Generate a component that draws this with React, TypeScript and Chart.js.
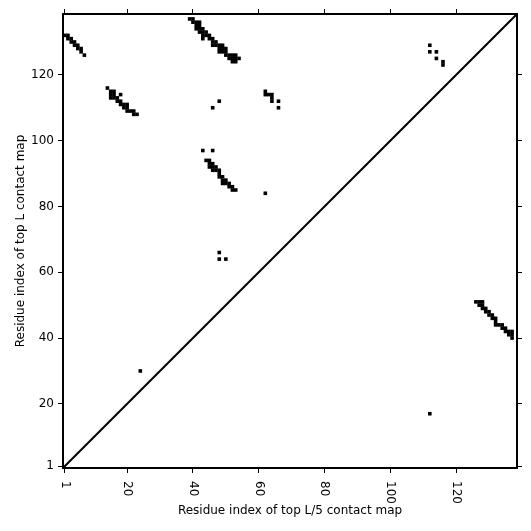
import React, { useEffect, useRef } from 'react';
import { Chart, registerables } from 'chart.js';

Chart.register(...registerables);

const SEQ_LENGTH = 138;
const xTickValues = [1, 20, 40, 60, 80, 100, 120];
const yTickValues = [1, 20, 40, 60, 80, 100, 120];
const xAxisTitle = 'Residue index of top L/5 contact map';
const yAxisTitle = 'Residue index of top L contact map';

// top L contacts (upper-left triangle), [i, j]
const topLClusterA: [number, number][] = [
  [1, 132], [2, 132], [2, 131], [3, 131], [3, 130], [4, 130], [4, 129], [5, 129], [5, 128], [6, 128], [6, 127], [7, 126],
];
const topLClusterB: [number, number][] = [
  [39, 137], [40, 137], [40, 136], [41, 136], [41, 135], [41, 134], [42, 136], [42, 135], [42, 134], [42, 133],
  [43, 134], [43, 133], [43, 132], [43, 131], [44, 133], [44, 132], [45, 132], [45, 131], [46, 131], [46, 130],
  [46, 129], [47, 130], [47, 129], [48, 129], [48, 128], [48, 127], [49, 129], [49, 128], [49, 127], [50, 128],
  [50, 127], [50, 126], [51, 126], [51, 125], [52, 126], [52, 125], [52, 124], [53, 126], [53, 125], [53, 124], [54, 125],
];
const topLClusterC: [number, number][] = [
  [14, 116], [15, 115], [15, 114], [15, 113], [16, 115], [16, 114], [16, 113], [17, 113], [17, 112], [18, 114],
  [18, 112], [18, 111], [19, 111], [19, 110], [20, 111], [20, 110], [20, 109], [21, 109], [22, 109], [22, 108], [23, 108],
];
const topLClusterD: [number, number][] = [
  [43, 97], [46, 97], [44, 94], [45, 94], [45, 93], [46, 93], [45, 92], [46, 92], [47, 92], [46, 91], [47, 91],
  [48, 91], [48, 90], [48, 89], [49, 89], [49, 88], [50, 88], [49, 87], [50, 87], [51, 87], [51, 86], [52, 86], [52, 85], [53, 85],
];
const topLScattered: [number, number][] = [
  [46, 110], [48, 112], [62, 115], [62, 114], [63, 114], [64, 114], [64, 113], [64, 112], [66, 112], [66, 110],
  [62, 84], [48, 66], [48, 64], [50, 64], [24, 30], [112, 129], [112, 127], [114, 127], [114, 125], [116, 124], [116, 123],
];

// top L/5 contacts (lower-right triangle), [i, j]
const topL5Contacts: [number, number][] = [
  [112, 17], [126, 51], [127, 51], [128, 51], [127, 50], [128, 50], [128, 49], [129, 49], [129, 48], [130, 48],
  [130, 47], [131, 47], [131, 46], [132, 46], [132, 45], [132, 44], [133, 44], [134, 44], [134, 43], [135, 43],
  [135, 42], [136, 42], [136, 41], [137, 42], [137, 41], [137, 40],
];

const FONT = 'DejaVu Sans';

const toPoints = (arr: [number, number][]) => arr.map(([x, y]) => ({ x, y }));

const rotatedXLabels = {
  id: 'rotatedXLabels',
  afterDraw(chart: any) {
    const { ctx, chartArea } = chart;
    const x = chart.scales.x;
    ctx.save();
    ctx.font = `12px "${FONT}"`;
    ctx.fillStyle = '#000';
    ctx.textAlign = 'left';
    ctx.textBaseline = 'middle';
    xTickValues.forEach((v) => {
      const px = x.getPixelForValue(v);
      ctx.save();
      ctx.translate(px, chartArea.bottom + 13);
      ctx.rotate(Math.PI / 2);
      ctx.fillText(String(v), 0, 0);
      ctx.restore();
    });
    ctx.restore();
  },
};

export default function App() {
  const ref = useRef<HTMLCanvasElement | null>(null);

  useEffect(() => {
    if (!ref.current) return;
    const allTopL = [...topLClusterA, ...topLClusterB, ...topLClusterC, ...topLClusterD, ...topLScattered];
    const cellStyle = {
      pointStyle: 'rect',
      pointRadius: 2.55,
      pointHoverRadius: 2.55,
      borderWidth: 0,
      backgroundColor: '#000',
      pointBackgroundColor: '#000',
      pointBorderWidth: 0,
      showLine: false,
      xAxisID: 'x',
      yAxisID: 'y',
    };
    const gridCommon = {
      drawOnChartArea: false,
      drawTicks: true,
      tickLength: 5,
      color: '#000',
      lineWidth: 1,
    };
    const borderCommon = { display: true, color: '#000', width: 2 };
    const range = { min: 0.5, max: SEQ_LENGTH + 0.5 };

    const chart = new Chart(ref.current, {
      type: 'scatter',
      data: {
        datasets: [
          {
            label: 'diagonal',
            data: [{ x: range.min, y: range.min }, { x: range.max, y: range.max }],
            showLine: true,
            borderColor: '#000',
            borderWidth: 2,
            pointRadius: 0,
            xAxisID: 'x',
            yAxisID: 'y',
          },
          { label: 'top L', data: toPoints(allTopL), ...cellStyle } as any,
          { label: 'top L/5', data: toPoints(topL5Contacts), ...cellStyle } as any,
        ],
      },
      options: {
        animation: false,
        responsive: false,
        events: [],
        layout: { padding: 0 },
        plugins: { legend: { display: false }, tooltip: { enabled: false } },
        scales: {
          x: {
            type: 'linear',
            position: 'bottom',
            ...range,
            afterBuildTicks: (s: any) => { s.ticks = xTickValues.map((v) => ({ value: v })); },
            afterFit: (s: any) => { s.height = 63; },
            ticks: { display: false },
            grid: gridCommon,
            border: borderCommon,
            title: {
              display: true,
              text: xAxisTitle,
              color: '#000',
              font: { family: FONT, size: 12 },
              padding: { top: 0, bottom: 13 },
            },
          },
          y: {
            type: 'linear',
            position: 'left',
            ...range,
            afterBuildTicks: (s: any) => { s.ticks = yTickValues.map((v) => ({ value: v })); },
            afterFit: (s: any) => { s.width = 63; },
            ticks: { display: true, color: '#000', font: { family: FONT, size: 12 }, padding: 4, callback: (v: any) => String(v) },
            grid: gridCommon,
            border: borderCommon,
            title: {
              display: true,
              text: yAxisTitle,
              color: '#000',
              font: { family: FONT, size: 12 },
              padding: { top: 14, bottom: 0 },
            },
          },
          x2: {
            type: 'linear',
            position: 'top',
            ...range,
            afterBuildTicks: (s: any) => { s.ticks = xTickValues.map((v) => ({ value: v })); },
            afterFit: (s: any) => { s.height = 14; },
            ticks: { display: false },
            grid: gridCommon,
            border: borderCommon,
          },
          y2: {
            type: 'linear',
            position: 'right',
            ...range,
            afterBuildTicks: (s: any) => { s.ticks = yTickValues.map((v) => ({ value: v })); },
            afterFit: (s: any) => { s.width = 14; },
            ticks: { display: false },
            grid: gridCommon,
            border: borderCommon,
          },
        } as any,
      },
      plugins: [rotatedXLabels],
    });
    return () => chart.destroy();
  }, []);

  return (
    <div style={{ position: 'fixed', left: 0, top: 0, width: 531, height: 531, background: '#fff' }}>
      <canvas ref={ref} width={531} height={531} style={{ display: 'block', width: 531, height: 531 }} />
    </div>
  );
}
